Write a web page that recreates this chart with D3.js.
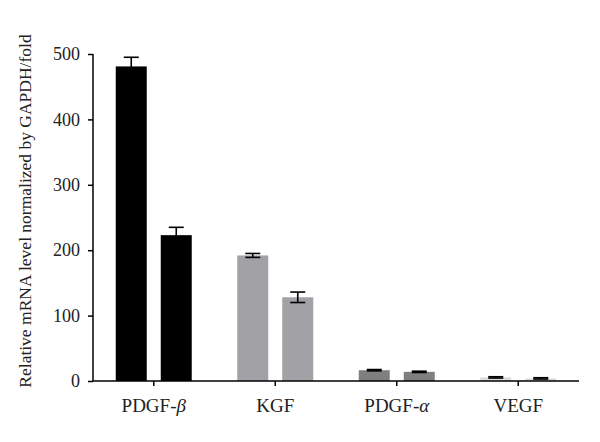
<!DOCTYPE html>
<html lang="en">
<head>
    <meta charset="UTF-8">
    <title>Relative mRNA level</title>
    <script src="https://d3js.org/d3.v7.min.js"></script>
    <style>
        body { margin: 0; background: #fff; }
        svg { display: block; }
        text { font-family: "Liberation Serif", "DejaVu Serif", serif; fill: #222; }
    </style>
</head>
<body>
    <svg width="600" height="442"></svg>

    <script>
        // data
        const categories = ["PDGF-β", "KGF", "PDGF-α", "VEGF"];
        const series = ["s1", "s2"];
        const values1 = [481, 192, 16.5, 5.5];
        const errors1 = [14, 3, 1, 1];
        const values2 = [223, 128, 14, 4];
        const errors2 = [12, 8, 1, 1];
        const colors = ["#000000", "#a2a2a6", "#7f7f7f", "#dcdcdc"];
        const yTicks = [0, 100, 200, 300, 400, 500];

        const width = 600, height = 442;
        const margin = { top: 54, right: 21, bottom: 61, left: 93 };
        const svg = d3.select("svg");

        const x0 = d3.scaleBand().domain(categories).range([margin.left, width - margin.right]);
        const bw = x0.bandwidth();
        const x1 = d3.scaleBand().domain(series).range([bw / 2 - 38, bw / 2 + 38]).paddingInner(0.311);
        const y = d3.scaleLinear().domain([0, 500]).range([height - margin.bottom, margin.top]);

        const rows = [];
        categories.forEach((c, i) => {
            rows.push({ cat: c, s: "s1", v: values1[i], e: errors1[i], color: colors[i] });
            rows.push({ cat: c, s: "s2", v: values2[i], e: errors2[i], color: colors[i] });
        });

        // bars
        svg.append("g").selectAll("rect")
            .data(rows)
            .join("rect")
            .attr("x", d => x0(d.cat) + x1(d.s))
            .attr("y", d => y(d.v))
            .attr("width", x1.bandwidth())
            .attr("height", d => y(0) - y(d.v))
            .attr("fill", d => d.color);

        // error bars
        const eb = svg.append("g").attr("stroke", "#000").attr("stroke-width", 1.6);
        rows.forEach(d => {
            const cx = x0(d.cat) + x1(d.s) + x1.bandwidth() / 2;
            eb.append("line")
                .attr("x1", cx).attr("x2", cx)
                .attr("y1", y(d.v - d.e)).attr("y2", y(d.v + d.e));
            [d.v - d.e, d.v + d.e].forEach(v => {
                eb.append("line")
                    .attr("x1", cx - 7.5).attr("x2", cx + 7.5)
                    .attr("y1", y(v)).attr("y2", y(v));
            });
        });

        // y axis
        const yAxis = svg.append("g")
            .attr("transform", `translate(${margin.left},0)`)
            .call(d3.axisLeft(y).tickValues(yTicks).tickSize(5).tickPadding(8));
        yAxis.selectAll("path, line").attr("stroke", "#000").attr("stroke-width", 1.5);
        yAxis.select(".domain").attr("d", `M0,${y(500)}V${y(0)}`);
        yAxis.selectAll("text").attr("font-size", 18).style("font-family", "Liberation Serif, serif").attr("fill", "#222");

        // x axis
        const xAxis = svg.append("g")
            .attr("transform", `translate(0,${y(0)})`)
            .call(d3.axisBottom(x0).tickSize(5).tickPadding(13));
        xAxis.selectAll("path, line").attr("stroke", "#000").attr("stroke-width", 1.5);
        xAxis.select(".domain").attr("d", `M${margin.left},0H${width - margin.right}`);
        xAxis.selectAll("text")
            .attr("font-size", 19)
            .style("font-family", "Liberation Serif, serif")
            .attr("fill", "#222")
            .text(null)
            .each(function(d) {
                const t = d3.select(this);
                const m = d.match(/^(.*-)([αβ])$/);
                if (m) {
                    t.append("tspan").text(m[1]);
                    t.append("tspan").attr("font-style", "italic").text(m[2]);
                } else {
                    t.text(d);
                }
            });

        // y label
        svg.append("text")
            .attr("transform", `translate(31,211) rotate(-90)`)
            .attr("text-anchor", "middle")
            .attr("font-size", 17.5)
            .text("Relative mRNA level normalized by GAPDH/fold");
    </script>
</body>
</html>
